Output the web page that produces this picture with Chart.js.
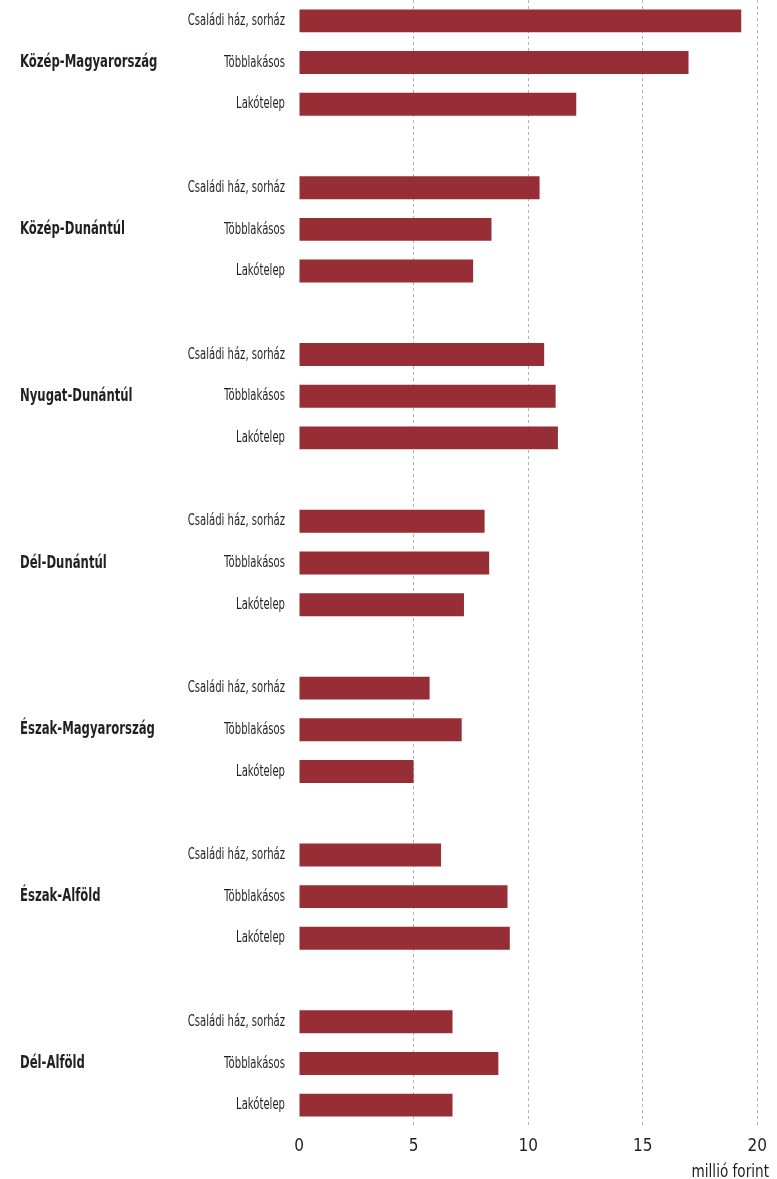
<!DOCTYPE html>
<html lang="hu">
<head>
    <meta charset="UTF-8">
    <title>Lakásárak régiónként</title>
    <script src="https://cdn.jsdelivr.net/npm/chart.js"></script>
    <style>
        html, body {
            margin: 0;
            padding: 0;
            background: #fff;
        }
        #chartContainer {
            width: 777px;
            height: 1179px;
        }
    </style>
</head>
<body>
    <div id="chartContainer">
        <canvas id="myChart"></canvas>
    </div>
    <script>
        const regions = ['Közép-Magyarország', 'Közép-Dunántúl', 'Nyugat-Dunántúl', 'Dél-Dunántúl', 'Észak-Magyarország', 'Észak-Alföld', 'Dél-Alföld'];
        const types = ['Családi ház, sorház', 'Többlakásos', 'Lakótelep'];
        const csaladiHaz = [19.3, 10.5, 10.7, 8.1, 5.7, 6.2, 6.7];
        const tobblakasos = [17.0, 8.4, 11.2, 8.3, 7.1, 9.1, 8.7];
        const lakotelep = [12.1, 7.6, 11.3, 7.2, 5.0, 9.2, 6.7];
        const xTicks = [0, 5, 10, 15, 20];
        const unitLabel = 'millió forint';

        const FONT = "'DejaVu Sans Condensed', 'DejaVu Sans', sans-serif";
        const TEXT = '#231f20';

        // egy üres sor a régiók között
        const labels = [];
        const values = [];
        const series = [csaladiHaz, tobblakasos, lakotelep];
        regions.forEach((r, i) => {
            if (i > 0) {
                labels.push('');
                values.push(null);
            }
            types.forEach((t, j) => {
                labels.push(t);
                values.push(series[j][i]);
            });
        });

        // keskeny betű híján vízszintesen összenyomott szöveg
        function narrowText(c, text, x, y, align, squeeze) {
            c.save();
            c.translate(x, y);
            c.scale(squeeze, 1);
            c.textAlign = align;
            c.fillText(text, 0, 0);
            c.restore();
        }

        const textLabels = {
            id: 'textLabels',
            afterDraw(chart) {
                const c = chart.ctx;
                const y = chart.scales.y;
                c.save();
                c.fillStyle = TEXT;
                c.textBaseline = 'middle';

                c.font = "bold 18px " + FONT;
                regions.forEach((r, i) => {
                    narrowText(c, r, 20, y.getPixelForValue(i * 4 + 1), 'left', 0.72);
                });

                c.font = "16px " + FONT;
                labels.forEach((l, i) => {
                    if (l) narrowText(c, l, 285, y.getPixelForValue(i), 'right', 0.70);
                });

                c.font = "18px " + FONT;
                c.textBaseline = 'alphabetic';
                narrowText(c, unitLabel, 769, 1177, 'right', 0.84);
                c.restore();
            }
        };

        const ctx = document.getElementById('myChart').getContext('2d');
        const myChart = new Chart(ctx, {
            type: 'bar',
            data: {
                labels: labels,
                datasets: [{
                    data: values,
                    backgroundColor: '#972e35',
                    borderWidth: 0,
                    barPercentage: 0.55,
                    categoryPercentage: 1
                }]
            },
            options: {
                indexAxis: 'y',
                responsive: true,
                maintainAspectRatio: false,
                animation: false,
                layout: {
                    padding: { top: -5, right: 14, left: 0, bottom: 0 }
                },
                plugins: {
                    legend: { display: false },
                    tooltip: { enabled: false }
                },
                scales: {
                    x: {
                        min: xTicks[0],
                        max: xTicks[xTicks.length - 1],
                        afterBuildTicks(scale) {
                            scale.ticks = xTicks.map(v => ({ value: v }));
                        },
                        afterFit(scale) {
                            scale.height = 53;
                        },
                        grid: {
                            drawTicks: false,
                            color: c => c.tick && c.tick.value === 0 ? 'rgba(0,0,0,0)' : '#b4b4b4',
                            lineWidth: 1
                        },
                        border: { display: false, dash: [3, 3] },
                        ticks: {
                            padding: 10,
                            color: TEXT,
                            font: { family: FONT, size: 17 }
                        }
                    },
                    y: {
                        afterFit(scale) {
                            scale.width = 299;
                        },
                        grid: { display: false, drawTicks: false },
                        border: { display: false },
                        ticks: { display: false }
                    }
                }
            },
            plugins: [textLabels]
        });
    </script>
</body>
</html>
